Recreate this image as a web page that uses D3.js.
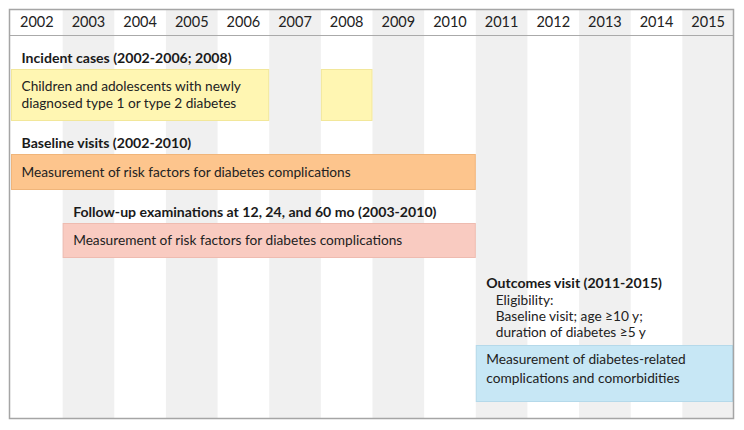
<!DOCTYPE html>
<html><head><meta charset="utf-8">
<script src="https://cdn.jsdelivr.net/npm/d3@7/dist/d3.min.js"></script>
<style>
html,body{margin:0;padding:0;background:#fff;}
svg{display:block;font-family:"Lato","Open Sans",sans-serif;}
</style></head>
<body><div id="chart"></div>
<script>
const years = [2002,2003,2004,2005,2006,2007,2008,2009,2010,2011,2012,2013,2014,2015];
const stageLabels = [
  "Incident cases (2002-2006; 2008)",
  "Baseline visits (2002-2010)",
  "Follow-up examinations at 12, 24, and 60 mo (2003-2010)",
  "Outcomes visit (2011-2015)"
];
const stageSpans = [
  [[2002,2006],[2008,2008]],
  [[2002,2010]],
  [[2003,2010]],
  [[2011,2015]]
];
const boxTexts = [
  ["Children and adolescents with newly","diagnosed type 1 or type 2 diabetes"],
  ["Measurement of risk factors for diabetes complications"],
  ["Measurement of risk factors for diabetes complications"],
  ["Measurement of diabetes-related","complications and comorbidities"]
];
const eligibilityNotes = ["Eligibility:","Baseline visit; age \u226510 y;","duration of diabetes \u22655 y"];

// styles / layout
const W=744,H=430;
const fills=["#fff6b2","#fdc58d","#f9cbc1","#c7e7f5"];
const strokes=["#f2e79a","#f0b57a","#eebbb0","#b5d9ea"];
const labelY=[63,148,217,288];
const boxY=[[69,121],[154,190],[223,258],[345,402]];
const boxTextY=[[91,108],[177],[245],[364,383]];
const noteY=[305,321,337];

const x=d3.scaleLinear().domain([2002,2016]).range([11,734]);
const svg=d3.select("#chart").append("svg").attr("width",W).attr("height",H);

// alternate shaded columns
svg.append("g").selectAll("rect").data(years.filter((d,i)=>i%2===1)).join("rect")
  .attr("x",d=>x(d)).attr("y",10).attr("width",d=>Math.min(x(d+1),733)-x(d)).attr("height",408)
  .attr("fill","#f0f0f0");

// header
svg.append("line").attr("x1",10).attr("x2",733).attr("y1",35.5).attr("y2",35.5)
  .attr("stroke","#aaa").attr("stroke-width",1);
svg.append("g").selectAll("text").data(years).join("text")
  .attr("x",d=>(x(d)+x(d+1))/2).attr("y",27).attr("text-anchor","middle")
  .attr("font-size",14.5).attr("fill","#222").text(d=>d);

// boxes
stageSpans.forEach((spans,i)=>{
  spans.forEach(s=>{
    svg.append("rect").attr("x",x(s[0])+0.5).attr("y",boxY[i][0]+0.5)
      .attr("width",Math.min(x(s[1]+1),733)-x(s[0])-1).attr("height",boxY[i][1]-boxY[i][0]-1)
      .attr("fill",fills[i]).attr("stroke",strokes[i]).attr("stroke-width",1);
  });
  const tx=x(spans[0][0])+10.5;
  svg.append("text").attr("x",tx).attr("y",labelY[i]).attr("font-size",14.1)
    .attr("font-weight",700).attr("fill","#1a1a1a").text(stageLabels[i]);
  boxTexts[i].forEach((t,j)=>{
    svg.append("text").attr("x",tx).attr("y",boxTextY[i][j]).attr("font-size",13.7)
      .attr("fill","#222").text(t);
  });
});
eligibilityNotes.forEach((t,j)=>{
  svg.append("text").attr("x",x(2011)+20).attr("y",noteY[j]).attr("font-size",13.7)
    .attr("fill","#222").text(t);
});

// frame
svg.append("rect").attr("x",9.5).attr("y",9.5).attr("width",724).attr("height",409)
  .attr("fill","none").attr("stroke","#a5a5a5").attr("stroke-width",1.5);
</script></body></html>
